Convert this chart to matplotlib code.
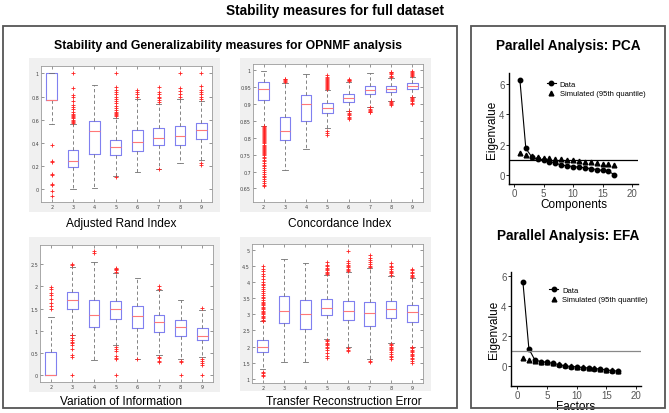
import matplotlib
matplotlib.use('Agg')
import matplotlib.pyplot as plt
from matplotlib.patches import Rectangle

ks = [2, 3, 4, 5, 6, 7, 8, 9]

# ---- Adjusted Rand Index ----
ari_q1 = [0.766, 0.188, 0.300, 0.290, 0.327, 0.379, 0.380, 0.430]
ari_med = [0.766, 0.240, 0.497, 0.364, 0.408, 0.442, 0.454, 0.509]
ari_q3 = [1.000, 0.338, 0.587, 0.425, 0.509, 0.523, 0.543, 0.569]
ari_lo = [0.560, 0.000, 0.010, 0.107, 0.145, 0.173, 0.222, 0.246]
ari_hi = [1.000, 0.560, 0.900, 0.613, 0.780, 0.731, 0.780, 0.760]
ari_fl = [
    [0.38, 0.24, 0.23, 0.13, 0.12, 0.04, 0.03, -0.02, -0.06],
    [0.57, 0.58, 0.59, 0.60, 0.61, 0.62, 0.63, 0.64, 0.65, 0.67, 0.69, 0.71, 0.73, 0.76, 0.80, 0.81, 0.87, 1.00],
    [],
    [0.10, 0.63, 0.64, 0.65, 0.66, 0.67, 0.68, 0.70, 0.72, 0.74, 0.76, 0.78, 0.80, 0.82, 0.84, 0.86, 0.88, 1.00],
    [0.80, 0.82, 0.84, 0.86],
    [0.17, 0.75, 0.77, 0.79, 0.80, 0.82, 0.84, 0.88],
    [0.80, 0.82, 0.85, 0.87, 1.00],
    [0.21, 0.22, 0.78, 0.80, 0.82, 0.84, 0.86, 0.89, 1.00],
]

# ---- Concordance Index ----
ci_q1 = [0.913, 0.794, 0.849, 0.873, 0.905, 0.928, 0.935, 0.944]
ci_med = [0.943, 0.820, 0.899, 0.887, 0.918, 0.940, 0.944, 0.953]
ci_q3 = [0.964, 0.860, 0.925, 0.902, 0.928, 0.952, 0.952, 0.961]
ci_lo = [0.835, 0.704, 0.768, 0.830, 0.880, 0.892, 0.909, 0.921]
ci_hi = [0.998, 0.962, 0.989, 0.942, 0.965, 0.990, 0.978, 0.981]
ci_fl = [
    [0.834, 0.831, 0.828, 0.825, 0.822, 0.819, 0.816, 0.813, 0.810, 0.807, 0.804, 0.801, 0.798, 0.795,
     0.792, 0.789, 0.786, 0.783, 0.780, 0.777, 0.774, 0.771, 0.768, 0.765, 0.762, 0.759, 0.756, 0.752,
     0.748, 0.744, 0.740, 0.735, 0.730, 0.726, 0.720, 0.715, 0.710, 0.704, 0.699, 0.693, 0.688, 0.684,
     0.678, 0.672, 0.667, 0.661, 0.656],
    [0.965, 0.968, 0.970, 0.973, 0.975],
    [],
    [0.945, 0.948, 0.951, 0.954, 0.957, 0.960, 0.963, 0.966, 0.969, 0.972, 0.975, 0.978, 0.981, 0.985,
     0.821, 0.813, 0.807],
    [0.968, 0.970, 0.972, 0.975, 0.878, 0.874, 0.870, 0.866, 0.862, 0.858, 0.855],
    [0.890, 0.886, 0.883, 0.880, 0.877, 0.875],
    [0.981, 0.984, 0.987, 0.990, 0.993, 0.995, 0.908, 0.905, 0.902, 0.899, 0.896],
    [0.983, 0.986, 0.989, 0.992, 0.995, 0.998, 0.920, 0.917, 0.914, 0.911, 0.908, 0.904, 0.900],
]

# ---- Variation of Information ----
vi_q1 = [0.000, 1.480, 1.090, 1.276, 1.070, 0.983, 0.886, 0.796]
vi_med = [0.000, 1.690, 1.366, 1.494, 1.330, 1.190, 1.096, 0.886]
vi_q3 = [0.533, 1.870, 1.700, 1.680, 1.554, 1.350, 1.240, 1.070]
vi_lo = [0.000, 0.916, 0.353, 0.683, 0.375, 0.450, 0.368, 0.413]
vi_hi = [1.310, 2.440, 2.550, 2.300, 2.180, 1.920, 1.700, 1.460]
vi_fl = [
    [1.48, 1.55, 1.63, 1.72, 1.80, 1.85, 1.95, 1.98],
    [2.48, 2.50, 0.90, 0.85, 0.80, 0.76, 0.72, 0.68, 0.60, 0.45, 0.42, 0.00],
    [2.75, 2.80],
    [2.33, 2.36, 2.38, 2.40, 2.42, 0.64, 0.60, 0.55, 0.44, 0.40, 0.37, 0.00],
    [0.36],
    [1.95, 2.00, 0.42, 0.38, 0.33, 0.30],
    [0.33, 0.30, 0.00],
    [1.52, 0.37, 0.33, 0.28, 0.24, 0.00],
]

# ---- Transfer Reconstruction Error ----
tre_q1 = [1.82, 2.72, 2.55, 2.97, 2.84, 2.65, 2.90, 2.77]
tre_med = [2.00, 3.10, 3.00, 3.19, 3.10, 3.04, 3.17, 3.06]
tre_q3 = [2.19, 3.56, 3.456, 3.47, 3.42, 3.37, 3.42, 3.29]
tre_lo = [1.29, 1.51, 1.51, 2.22, 1.97, 1.60, 2.10, 2.00]
tre_hi = [2.78, 4.71, 4.60, 4.22, 4.32, 4.45, 4.20, 4.14]
tre_fl = [
    [2.80, 2.84, 2.88, 2.92, 2.96, 3.00, 3.04, 3.08, 3.12, 3.16, 3.20, 3.24, 3.28, 3.32, 3.36, 3.40,
     3.45, 3.50, 3.55, 3.60, 3.66, 3.72, 3.78, 3.84, 3.90, 3.96, 4.02, 4.10, 4.18, 4.26, 4.34, 4.40,
     4.50, 1.22, 1.18, 1.12, 1.08],
    [],
    [],
    [4.25, 4.29, 4.33, 4.37, 4.41, 4.45, 4.50, 4.55, 4.62, 2.20, 2.16, 2.12, 2.08, 2.04, 2.00, 1.95,
     1.88, 1.80, 1.72, 1.65],
    [4.34, 4.38, 4.42, 4.46, 4.50, 4.55, 4.60, 4.65, 4.97, 1.95, 1.90, 1.85],
    [4.48, 4.52, 4.57, 4.62, 4.68, 4.75, 4.85, 1.55, 1.52],
    [4.24, 4.28, 4.32, 4.36, 4.41, 4.46, 4.52, 4.60, 2.08, 2.04, 2.00, 1.96, 1.92, 1.88, 1.83, 1.78,
     1.72, 1.67, 1.62],
    [4.16, 4.20, 4.24, 4.28, 4.33, 4.38, 4.42, 1.98, 1.94, 1.90, 1.86, 1.82, 1.78, 1.74, 1.70, 1.65,
     1.60, 1.55, 1.50],
]

# ---- Parallel analysis ----
pa_x = list(range(1, 18))
pca_data = [6.25, 1.75, 1.20, 1.05, 1.00, 0.88, 0.80, 0.65, 0.62, 0.55, 0.52, 0.48, 0.42, 0.36, 0.30, 0.25, 0.02]
pca_sim = [1.45, 1.35, 1.25, 1.20, 1.15, 1.10, 1.07, 1.03, 1.00, 0.96, 0.92, 0.88, 0.84, 0.80, 0.76, 0.72, 0.65]
efa_data = [5.60, 1.15, 0.40, 0.30, 0.25, 0.18, 0.10, 0.02, -0.03, -0.05, -0.10, -0.13, -0.17, -0.20, -0.27, -0.30, -0.35]
efa_sim = [0.55, 0.40, 0.35, 0.30, 0.25, 0.18, 0.12, 0.05, 0.00, -0.05, -0.08, -0.12, -0.16, -0.20, -0.25, -0.28, -0.32]

W, H = 669, 414
fig = plt.figure(figsize=(W / 100, H / 100), dpi=100)
FONT = 'Liberation Sans'


def px_axes(x0, y0, x1, y1, **kw):
    return fig.add_axes([x0 / W, 1 - y1 / H, (x1 - x0) / W, (y1 - y0) / H], **kw)


def px_rect(x0, y0, x1, y1, **kw):
    r = Rectangle((x0 / W, 1 - y1 / H), (x1 - x0) / W, (y1 - y0) / H,
                  transform=fig.transFigure, **kw)
    fig.add_artist(r)


def ftext(x, y, s, **kw):
    fig.text(x / W, 1 - y / H, s, ha='center', va='center', family=FONT, **kw)


# panel frames
px_rect(3, 27, 457, 409, fill=False, edgecolor='#555555', lw=1.3)
px_rect(471, 27, 665, 409, fill=False, edgecolor='#555555', lw=1.3)

ftext(335, 11, 'Stability measures for full dataset', fontsize=9.8, fontweight='bold')
ftext(228, 46, 'Stability and Generalizability measures for OPNMF analysis', fontsize=8.8, fontweight='bold')
ftext(568, 46, 'Parallel Analysis: PCA', fontsize=9.8, fontweight='bold')
ftext(568, 236, 'Parallel Analysis: EFA', fontsize=9.8, fontweight='bold')


def boxpanel(grey, axbox, q1, med, q3, lo, hi, fl, ylim, yticks, ylabels, label, labpos):
    px_rect(*grey, facecolor='#f0f0f0', edgecolor='none', zorder=0)
    ax = px_axes(*axbox)
    stats = []
    for i in range(len(ks)):
        stats.append(dict(med=med[i], q1=q1[i], q3=q3[i], whislo=lo[i], whishi=hi[i], fliers=fl[i]))
    ax.bxp(stats, positions=ks, widths=0.5, showfliers=True,
           boxprops=dict(color='#8080f0', lw=0.8),
           medianprops=dict(color='#ff7878', lw=0.8),
           whiskerprops=dict(color='#707070', lw=0.6, linestyle=(0, (4, 3))),
           capprops=dict(color='#707070', lw=0.6),
           flierprops=dict(marker='+', markeredgecolor='#ff2020', markersize=3.0, markeredgewidth=0.6,
                           linestyle='none'))
    ax.set_xlim(1.5, 9.5)
    ax.set_ylim(*ylim)
    ax.set_yticks(yticks)
    ax.set_yticklabels(ylabels)
    ax.set_xticks(ks)
    ax.set_xticklabels([str(k) for k in ks])
    ax.tick_params(direction='in', top=True, right=True, length=2, width=0.4,
                   labelsize=3.5, colors='#444444', pad=1.5)
    for s in ax.spines.values():
        s.set_color('#9a9a9a')
        s.set_linewidth(0.6)
    ftext(labpos[0], labpos[1], label, fontsize=8.6)
    return ax


boxpanel((29, 59, 220, 213), (41, 67, 212, 203), ari_q1, ari_med, ari_q3, ari_lo, ari_hi, ari_fl,
         (-0.115, 1.065), [0, 0.2, 0.4, 0.6, 0.8, 1.0], ['0', '0.2', '0.4', '0.6', '0.8', '1'],
         'Adjusted Rand Index', (121, 224))
boxpanel((240, 59, 431, 213), (253, 65, 423, 203), ci_q1, ci_med, ci_q3, ci_lo, ci_hi, ci_fl,
         (0.61, 1.018), [0.65, 0.7, 0.75, 0.8, 0.85, 0.9, 0.95, 1.0],
         ['0.65', '0.7', '0.75', '0.8', '0.85', '0.9', '0.95', '1'],
         'Concordance Index', (340, 224))
boxpanel((29, 238, 220, 393), (40, 246, 213, 383), vi_q1, vi_med, vi_q3, vi_lo, vi_hi, vi_fl,
         (-0.15, 2.93), [0, 0.5, 1, 1.5, 2, 2.5], ['0', '0.5', '1', '1.5', '2', '2.5'],
         'Variation of Information', (121, 402))
boxpanel((240, 238, 431, 392), (252, 245, 423, 384), tre_q1, tre_med, tre_q3, tre_lo, tre_hi, tre_fl,
         (0.865, 5.19), [1, 1.5, 2, 2.5, 3, 3.5, 4, 4.5, 5],
         ['1', '1.5', '2', '2.5', '3', '3.5', '4', '4.5', '5'],
         'Transfer Reconstruction Error', (344, 402))


def papanel(axbox, xlim, ylim, data, sim, xlabel, hcolor, leg_anchor, xlabpad):
    ax = px_axes(*axbox)
    ax.plot(pa_x, data, color='black', lw=0.8, marker='o', markersize=3.2, label='Data')
    ax.plot(pa_x, sim, color='black', lw=0, marker='^', markersize=3.4,
            label='Simulated (95th quantile)')
    ax.axhline(1, color=hcolor, lw=0.9)
    ax.set_xlim(*xlim)
    ax.set_ylim(*ylim)
    ax.set_xticks([0, 5, 10, 15, 20])
    ax.set_yticks([0, 2, 4, 6])
    for s in ['top', 'right']:
        ax.spines[s].set_visible(False)
    for s in ['left', 'bottom']:
        ax.spines[s].set_linewidth(1.0)
    ax.tick_params(direction='out', length=2.2, width=0.6, labelsize=7, colors='black',
                   labelcolor='#555555', pad=1)
    for t in ax.get_xticklabels() + ax.get_yticklabels():
        t.set_family(FONT)
    ax.set_xlabel(xlabel, fontsize=8.5, family=FONT, labelpad=xlabpad)
    ax.set_ylabel('Eigenvalue', fontsize=8.5, family=FONT, labelpad=1)
    ax.legend(loc='upper left', bbox_to_anchor=leg_anchor, frameon=False,
              prop=dict(family=FONT, size=5.5), handlelength=1.2, handletextpad=0.5,
              labelspacing=0.3, borderaxespad=0)
    return ax


papanel((509, 74, 638, 185), (-0.85, 21.0), (-0.59, 6.72), pca_data, pca_sim, 'Components', 'black',
        (0.27, 0.96), -0.5)
papanel((511, 273, 641, 387), (-1.0, 20.8), (-1.33, 6.27), efa_data, efa_sim, 'Factors', '#888888',
        (0.27, 0.9), -0.5)

fig.savefig('out.png', dpi=100)
